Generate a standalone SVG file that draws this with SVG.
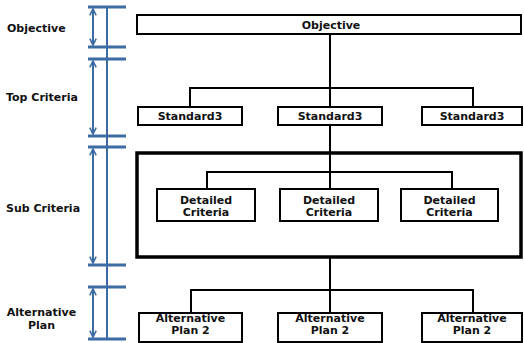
<svg xmlns="http://www.w3.org/2000/svg" width="524" height="343" viewBox="0 0 524 343">
<style>
text{font-family:"DejaVu Sans","Liberation Sans",sans-serif;font-weight:bold;font-size:11px;fill:#111}
.c{text-anchor:middle}
.box{fill:#fff;stroke:#000;stroke-width:2}
.big{fill:none;stroke:#000;stroke-width:3.5}
.conn{fill:none;stroke:#000;stroke-width:2}
.tick{stroke:#3d6ba3;stroke-width:3}
.axis{stroke:#3d6ba3;stroke-width:2}
.dim{stroke:#3d6ba3;stroke-width:2;marker-start:url(#ah);marker-end:url(#ah)}
</style>
<defs>
<marker id="ah" viewBox="0 0 10 10" refX="9" refY="5" markerWidth="8" markerHeight="8" markerUnits="userSpaceOnUse" orient="auto-start-reverse">
<path d="M1,1 L9,5 L1,9" fill="none" stroke="#3d6ba3" stroke-width="2"/>
</marker>
</defs>
<g id="ruler">
<line class="axis" x1="107" y1="6" x2="107" y2="340"/>
<line class="tick" x1="88" y1="7" x2="126" y2="7"/>
<line class="tick" x1="88" y1="47" x2="126" y2="47"/>
<line class="tick" x1="88" y1="59" x2="126" y2="59"/>
<line class="tick" x1="88" y1="136" x2="126" y2="136"/>
<line class="tick" x1="88" y1="147" x2="126" y2="147"/>
<line class="tick" x1="88" y1="265" x2="126" y2="265"/>
<line class="tick" x1="88" y1="287" x2="126" y2="287"/>
<line class="tick" x1="88" y1="339" x2="126" y2="339"/>
<line class="dim" x1="93" y1="9" x2="93" y2="45"/>
<line class="dim" x1="93" y1="61" x2="93" y2="134"/>
<line class="dim" x1="93" y1="149" x2="93" y2="263"/>
<line class="dim" x1="93" y1="289" x2="93" y2="337"/>
</g>
<g id="labels">
<text x="7" y="32">Objective</text>
<text x="6" y="101">Top Criteria</text>
<text x="6" y="212">Sub Criteria</text>
<text class="c" x="41.5" y="316">Alternative</text>
<text class="c" x="41.5" y="329">Plan</text>
</g>
<g id="connectors">
<polyline class="conn" points="330,34 330,107"/>
<polyline class="conn" points="190,107 190,88 473,88 473,107"/>
<polyline class="conn" points="330,125 330,189"/>
<polyline class="conn" points="207,189 207,172 452,172 452,189"/>
<polyline class="conn" points="330,257 330,313"/>
<polyline class="conn" points="191,313 191,290 473,290 473,313"/>
</g>
<g id="objective"><rect class="box" x="137" y="15" width="384" height="19"/><text class="c" x="331" y="29">Objective</text></g>
<g id="std1"><rect class="box" x="138" y="107" width="104" height="18"/><text class="c" x="190" y="120">Standard3</text></g>
<g id="std2"><rect class="box" x="278" y="107" width="104" height="18"/><text class="c" x="330" y="120">Standard3</text></g>
<g id="std3"><rect class="box" x="422" y="107" width="100" height="18"/><text class="c" x="472" y="120">Standard3</text></g>
<g id="subgroup"><rect class="big" x="137" y="153" width="384" height="104"/></g>
<g id="det1"><rect class="box" x="157" y="189" width="98" height="32"/><text class="c" x="206" y="204">Detailed</text><text class="c" x="206" y="216">Criteria</text></g>
<g id="det2"><rect class="box" x="280" y="189" width="98" height="32"/><text class="c" x="329" y="204">Detailed</text><text class="c" x="329" y="216">Criteria</text></g>
<g id="det3"><rect class="box" x="401" y="189" width="97" height="32"/><text class="c" x="449.5" y="204">Detailed</text><text class="c" x="449.5" y="216">Criteria</text></g>
<g id="alt1"><rect class="box" x="139" y="313" width="103" height="29"/><text class="c" x="190.5" y="322">Alternative</text><text class="c" x="190.5" y="334">Plan 2</text></g>
<g id="alt2"><rect class="box" x="278" y="313" width="104" height="29"/><text class="c" x="330" y="322">Alternative</text><text class="c" x="330" y="334">Plan 2</text></g>
<g id="alt3"><rect class="box" x="422" y="313" width="100" height="29"/><text class="c" x="472" y="322">Alternative</text><text class="c" x="472" y="334">Plan 2</text></g>
</svg>
